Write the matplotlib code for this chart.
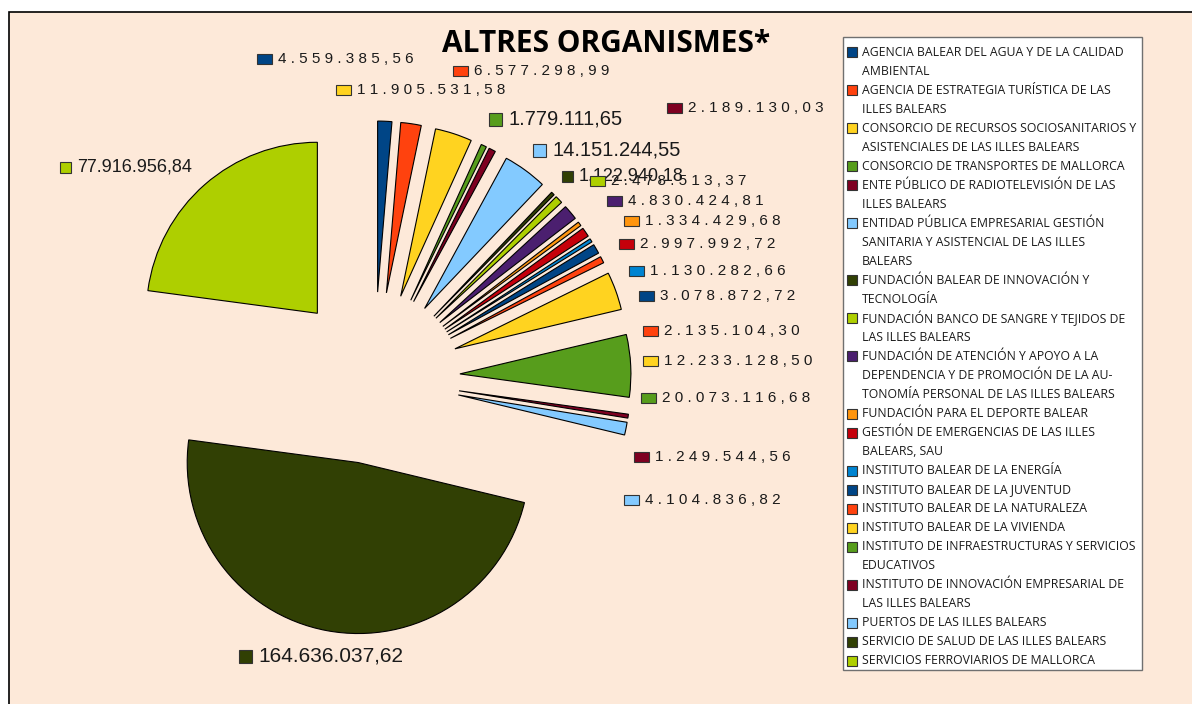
import matplotlib
matplotlib.use('Agg')
import matplotlib.pyplot as plt
from matplotlib.patches import Rectangle
from matplotlib import font_manager

# ---------------- data ----------------
categories = [
    "AGENCIA BALEAR DEL AGUA Y DE LA CALIDAD\nAMBIENTAL",
    "AGENCIA DE ESTRATEGIA TURÍSTICA DE LAS\nILLES BALEARS",
    "CONSORCIO DE RECURSOS SOCIOSANITARIOS Y\nASISTENCIALES DE LAS ILLES BALEARS",
    "CONSORCIO DE TRANSPORTES DE MALLORCA",
    "ENTE PÚBLICO DE RADIOTELEVISIÓN DE LAS\nILLES BALEARS",
    "ENTIDAD PÚBLICA EMPRESARIAL GESTIÓN\nSANITARIA Y ASISTENCIAL DE LAS ILLES\nBALEARS",
    "FUNDACIÓN BALEAR DE INNOVACIÓN Y\nTECNOLOGÍA",
    "FUNDACIÓN BANCO DE SANGRE Y TEJIDOS DE\nLAS ILLES BALEARS",
    "FUNDACIÓN DE ATENCIÓN Y APOYO A LA\nDEPENDENCIA Y DE PROMOCIÓN DE LA AU-\nTONOMÍA PERSONAL DE LAS ILLES BALEARS",
    "FUNDACIÓN PARA EL DEPORTE BALEAR",
    "GESTIÓN DE EMERGENCIAS DE LAS ILLES\nBALEARS, SAU",
    "INSTITUTO BALEAR DE LA ENERGÍA",
    "INSTITUTO BALEAR DE LA JUVENTUD",
    "INSTITUTO BALEAR DE LA NATURALEZA",
    "INSTITUTO BALEAR DE LA VIVIENDA",
    "INSTITUTO DE INFRAESTRUCTURAS Y SERVICIOS\nEDUCATIVOS",
    "INSTITUTO DE INNOVACIÓN EMPRESARIAL DE\nLAS ILLES BALEARS",
    "PUERTOS DE LAS ILLES BALEARS",
    "SERVICIO DE SALUD DE LAS ILLES BALEARS",
    "SERVICIOS FERROVIARIOS DE MALLORCA",
]

values = [
    4559385.56, 6577298.99, 11905531.58, 1779111.65, 2189130.03,
    14151244.55, 1122940.18, 2478513.37, 4830424.81, 1334429.68,
    2997992.72, 1130282.66, 3078872.72, 2135104.30, 12233128.50,
    20073116.68, 1249544.56, 4104836.82, 164636037.62, 77916956.84,
]

value_labels = [
    "4.559.385,56", "6.577.298,99", "11.905.531,58", "1.779.111,65", "2.189.130,03",
    "14.151.244,55", "1.122.940,18", "2.478.513,37", "4.830.424,81", "1.334.429,68",
    "2.997.992,72", "1.130.282,66", "3.078.872,72", "2.135.104,30", "12.233.128,50",
    "20.073.116,68", "1.249.544,56", "4.104.836,82", "164.636.037,62", "77.916.956,84",
]

title = "ALTRES ORGANISMES*"

# ---------------- styles / layout ----------------
colors = [
    "#004586", "#FF420E", "#FFD320", "#579D1C", "#7E0021",
    "#83CAFF", "#314004", "#AECF00", "#4B1F6F", "#FF950E",
    "#C5000B", "#0084D1", "#004586", "#FF420E", "#FFD320",
    "#579D1C", "#7E0021", "#83CAFF", "#314004", "#AECF00",
]

# label layout: (square left x px, center y px from top, style)
label_layout = [
    (257, 59, 's'), (453, 71, 's'), (336, 90, 's'), (489, 119, 'b'), (667, 108, 's'),
    (533, 150, 'b'), (562, 176, 'm'), (590, 181, 's'), (607, 201, 's'), (624, 221, 's'),
    (619, 244, 's'), (629, 271, 's'), (639, 296, 's'), (643, 331, 's'), (643, 361, 's'),
    (641, 398, 's'), (634, 457, 's'), (624, 500, 's'), (239, 656, 'B'), (60, 167, 'm'),
]

W, H = 1192, 704
BG = "#FDE9D9"

avail = {f.name for f in font_manager.fontManager.ttflist}
num_font = "Liberation Sans" if "Liberation Sans" in avail else "DejaVu Sans"
if "Liberation Sans Narrow" in avail:
    leg_font, leg_size = "Liberation Sans Narrow", 9.6
else:
    leg_font, leg_size = "Open Sans", 8.8
title_font = "Open Sans" if "Open Sans" in avail else "DejaVu Sans"

fig = plt.figure(figsize=(W / 100, H / 100), dpi=100, facecolor="white")
ax = fig.add_axes([0, 0, 1, 1])


def Y(y):
    return H - y


# background panel
ax.add_patch(Rectangle((9, -20), W + 20, Y(12) + 20, facecolor=BG,
                       edgecolor="black", linewidth=1.2, zorder=0))

# pie (explode is in data units = pixels here)
R = 171
cx, cy = 374, 378
explode = [86] * len(values)
ax.pie(values, colors=colors, startangle=90, counterclock=False,
       explode=explode, radius=R, center=(cx, Y(cy)),
       wedgeprops=dict(edgecolor="black", linewidth=0.8))

ax.set_xlim(0, W)
ax.set_ylim(0, H)
ax.set_aspect('auto')
ax.axis('off')

# value labels
for i, (x, y, st) in enumerate(label_layout):
    if st == 's':
        sw, sh, fs, txt = 15, 10, 11, " ".join(value_labels[i])
    elif st == 'b':
        sw, sh, fs, txt = 13, 13, 14.5, value_labels[i]
    elif st == 'B':
        sw, sh, fs, txt = 13, 13, 15, value_labels[i]
    else:
        sw, sh, fs, txt = 11, 11, 13, value_labels[i]
    ax.add_patch(Rectangle((x, Y(y) - sh / 2), sw, sh, facecolor=colors[i],
                           edgecolor="#333333", linewidth=0.8, zorder=5 + 2 * i))
    ax.text(x + sw + 6, Y(y), txt, ha="left", va="center", fontsize=fs,
            family=num_font, color="#1a1a1a", zorder=6 + 2 * i)

# title
ax.text(606, Y(44), title, ha="center", va="center", fontsize=21.5,
        fontweight="bold", family=title_font, color="black", zorder=50)

# legend (manual)
ax.add_patch(Rectangle((843, Y(670)), 1142 - 843, 670 - 37, facecolor="white",
                       edgecolor="#707070", linewidth=1.0, zorder=40))
line_h = 19.03
row = 0
for i, name in enumerate(categories):
    lines = name.split("\n")
    y0 = 52 + row * line_h
    ax.add_patch(Rectangle((847, Y(y0) - 5), 10, 10, facecolor=colors[i],
                           edgecolor="#333333", linewidth=0.8, zorder=41))
    for k, ln in enumerate(lines):
        ax.text(862, Y(y0 + k * line_h), ln, ha="left", va="center",
                fontsize=leg_size, family=leg_font, color="#1a1a1a", zorder=42)
    row += len(lines)

fig.savefig("out.png", dpi=100, facecolor="white")
